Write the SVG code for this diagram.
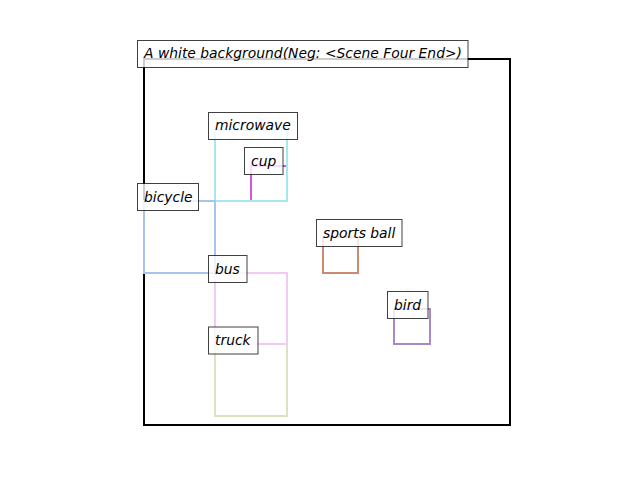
<svg xmlns="http://www.w3.org/2000/svg" width="640" height="480" viewBox="0 0 640 480">
<style>
.obj{fill:none;stroke-width:2}
.lb{fill:#fff;fill-opacity:0.8;stroke:#000;stroke-opacity:0.75;stroke-width:1}
.t{font-family:"DejaVu Sans",sans-serif;font-style:oblique;font-size:13.89px;fill:#000}
</style>
<rect width="640" height="480" fill="#fff"/>
<g id="frame">
<rect x="144" y="59" width="366" height="366" fill="none" stroke="#000" stroke-width="2"/>
</g>
<g id="boxes">
<rect id="box-truck" class="obj" x="215" y="344" width="72" height="72" stroke="#e0e0c2"/>
<rect id="box-bus" class="obj" x="215" y="273" width="72" height="71" stroke="#f0ccf4"/>
<rect id="box-cup" class="obj" x="251" y="166" width="36" height="35" stroke="#d458d8"/>
<rect id="box-microwave" class="obj" x="215" y="130" width="72" height="71" stroke="#a6e6ee"/>
<rect id="box-bicycle" class="obj" x="144" y="201" width="71" height="72" stroke="#a8c4ea"/>
<rect id="box-sportsball" class="obj" x="323" y="237" width="35" height="36" stroke="#c88a70"/>
<rect id="box-bird" class="obj" x="394" y="309" width="36" height="35" stroke="#a888c8"/>
</g>
<g id="connectors"/>
<g id="title">
<rect class="lb" x="137.5" y="40.5" width="330.5" height="27"/>
<text class="t" x="144" y="58">A white background(Neg: &lt;Scene Four End&gt;)</text>
</g>
<g id="microwave">
<rect class="lb" x="208.5" y="112.5" width="89" height="27"/>
<text class="t" x="215" y="130">microwave</text>
</g>
<g id="cup">
<rect class="lb" x="244.5" y="147.5" width="38.5" height="27"/>
<text class="t" x="251" y="165.5">cup</text>
</g>
<g id="bicycle">
<rect class="lb" x="137.5" y="183.5" width="61" height="27"/>
<text class="t" x="144" y="201.5">bicycle</text>
</g>
<g id="sportsball">
<rect class="lb" x="316.5" y="219.5" width="85.5" height="27"/>
<text class="t" x="323" y="237.5">sports ball</text>
</g>
<g id="bus">
<rect class="lb" x="208.5" y="255.5" width="38.5" height="27"/>
<text class="t" x="215" y="273.5">bus</text>
</g>
<g id="bird">
<rect class="lb" x="387.5" y="291.5" width="40.5" height="27"/>
<text class="t" x="394" y="309.5">bird</text>
</g>
<g id="truck">
<rect class="lb" x="208.5" y="327" width="49.5" height="27"/>
<text class="t" x="215" y="345">truck</text>
</g>
</svg>
